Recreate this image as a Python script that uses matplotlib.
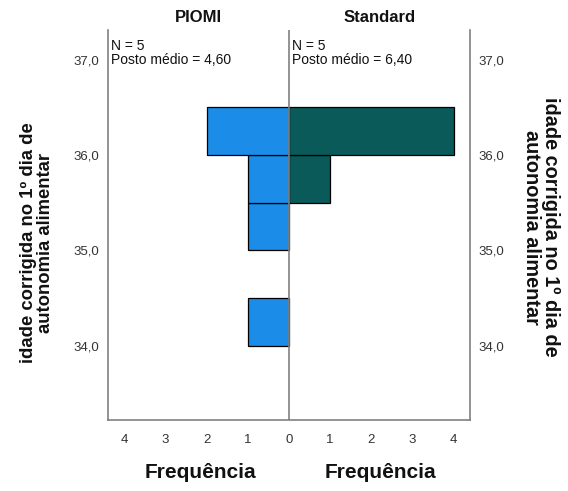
import matplotlib
matplotlib.use("Agg")
import matplotlib.pyplot as plt
import numpy as np

plt.rcParams['font.family'] = ['Liberation Sans', 'DejaVu Sans']

# Data
bin_lower = [34.0, 34.5, 35.0, 35.5, 36.0]
bin_width = 0.5
piomi_counts = [1, 0, 1, 1, 2]
standard_counts = [0, 0, 0, 1, 4]
group_names = ["PIOMI", "Standard"]
group_n = [5, 5]
group_rank = ["4,60", "6,40"]
y_ticks = [34.0, 35.0, 36.0, 37.0]
y_tick_labels = ["34,0", "35,0", "36,0", "37,0"]
x_ticks = [-4, -3, -2, -1, 0, 1, 2, 3, 4]
x_tick_labels = ["4", "3", "2", "1", "0", "1", "2", "3", "4"]
ylabel_text = "idade corrigida no 1º dia de\nautonomia alimentar"
xlabel_text = "Frequência"

col_piomi = "#1B8DE8"
col_std = "#0B5A5A"
frame_col = "#808080"

fig = plt.figure(figsize=(5.68, 4.91), dpi=100)
ax = fig.add_axes([108/568, 1-420/491, (470-108)/568, (420-30)/491])

centers = [b + bin_width/2 for b in bin_lower]
for c, n in zip(centers, piomi_counts):
    if n > 0:
        ax.barh(c, -n, height=bin_width, color=col_piomi, edgecolor="black", linewidth=0.9, zorder=2)
for c, n in zip(centers, standard_counts):
    if n > 0:
        ax.barh(c, n, height=bin_width, color=col_std, edgecolor="black", linewidth=0.9, zorder=2)

ax.set_xlim(-4.4, 4.4)
ax.set_ylim(33.22, 37.31)
ax.axvline(0, color=frame_col, linewidth=1.2, zorder=3)

for s in ["left", "right", "bottom"]:
    ax.spines[s].set_color(frame_col)
    ax.spines[s].set_linewidth(1.2)
ax.spines["top"].set_visible(False)

ax.set_xticks(x_ticks)
ax.set_xticklabels(x_tick_labels, fontsize=9.5, color="#333333")
ax.set_yticks(y_ticks)
ax.set_yticklabels(y_tick_labels, fontsize=9.5, color="#333333")
ax.tick_params(axis="both", length=0, pad=8)
ax.tick_params(axis="y", labelright=True, right=False, pad=6)
ax.tick_params(axis="x", pad=10)

# group titles
ax.text(-2.2, 1.012, group_names[0], transform=ax.get_xaxis_transform(), ha="center", va="bottom",
        fontsize=12, fontweight="bold", color="#111111")
ax.text(2.2, 1.012, group_names[1], transform=ax.get_xaxis_transform(), ha="center", va="bottom",
        fontsize=12, fontweight="bold", color="#111111")

# N and mean rank annotations
ax.text(-4.33, 37.22, f"N = {group_n[0]}\nPosto médio = {group_rank[0]}", ha="left", va="top",
        fontsize=10, linespacing=1.0, color="#111111")
ax.text(0.07, 37.22, f"N = {group_n[1]}\nPosto médio = {group_rank[1]}", ha="left", va="top",
        fontsize=10, linespacing=1.0, color="#111111")

# x labels
fig.text(200/568, 1-473/491, xlabel_text, ha="center", va="center", fontsize=15, fontweight="bold", color="#111111")
fig.text(380/568, 1-473/491, xlabel_text, ha="center", va="center", fontsize=15, fontweight="bold", color="#111111")

# y labels
fig.text(37/568, 1-243/491, ylabel_text, ha="center", va="center", rotation=90, fontsize=13.3,
         fontweight="bold", linespacing=1.0, color="#111111")
fig.text(541/568, 1-227/491, ylabel_text, ha="center", va="center", rotation=270, fontsize=14.3,
         fontweight="bold", linespacing=0.95, color="#111111")

fig.savefig("out.png", dpi=100)
